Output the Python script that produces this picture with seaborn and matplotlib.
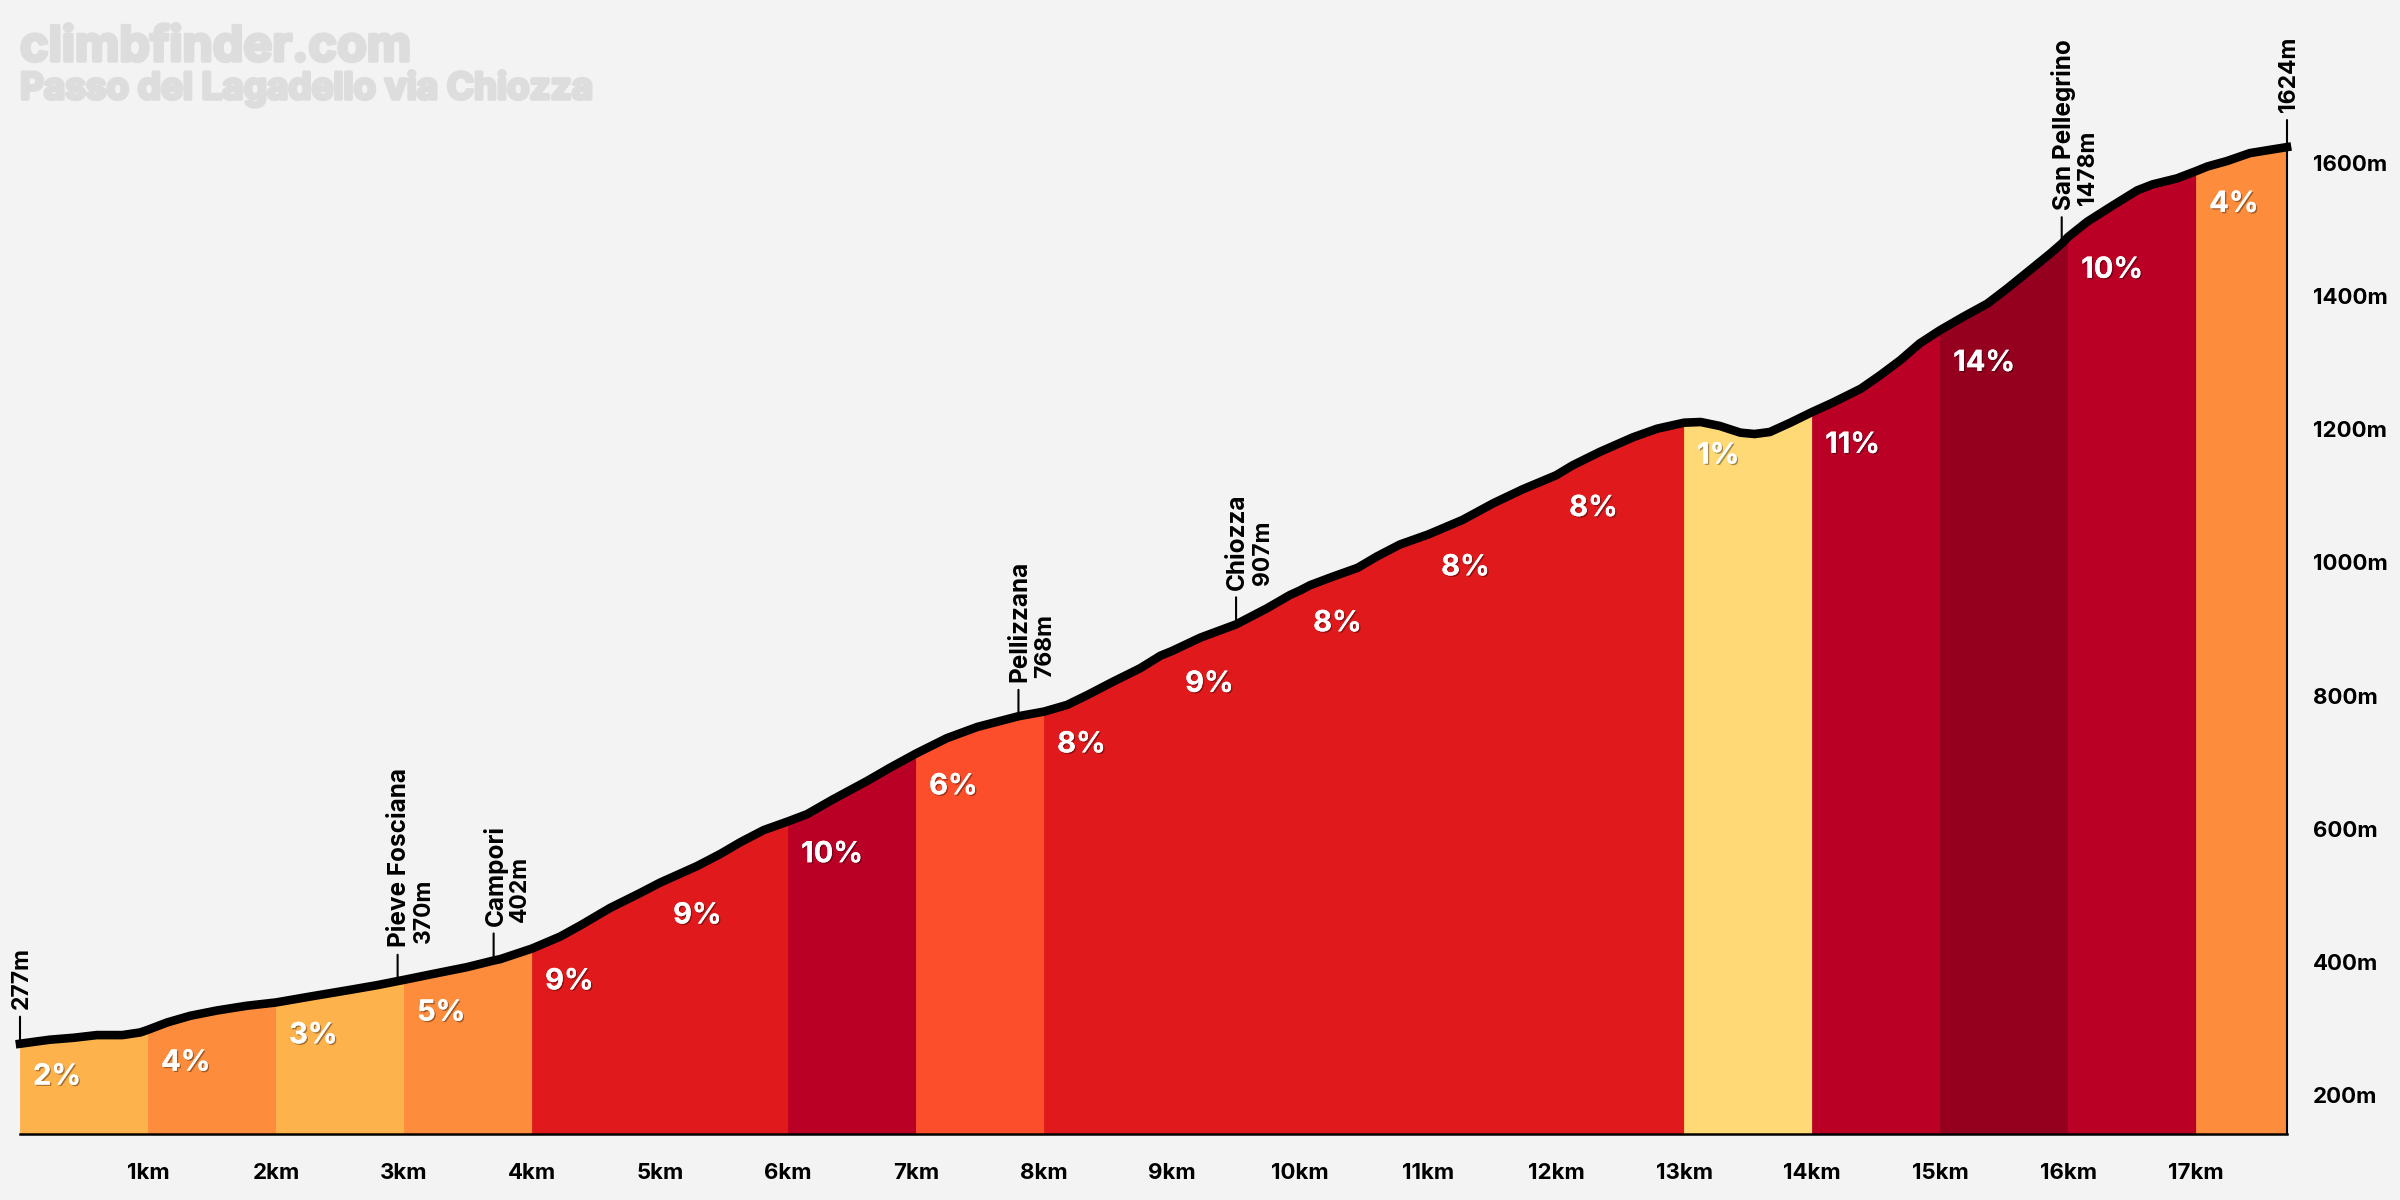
import numpy as np
import matplotlib
matplotlib.use("Agg")
import matplotlib.pyplot as plt
import matplotlib.patheffects as pe
import seaborn as sns

# profile (km, metres)
km_points = [0, 0.23, 0.42, 0.6, 0.8, 0.94, 1, 1.15, 1.33, 1.54, 1.77, 2, 2.27, 2.58, 2.79, 3, 3.23, 3.49, 3.7, 3.75,
             4, 4.22, 4.38, 4.61, 4.84, 5, 5.29, 5.47, 5.63, 5.81, 6, 6.15, 6.35, 6.62, 6.8, 7, 7.24, 7.48, 7.66, 7.8,
             8, 8.18, 8.34, 8.54, 8.75, 8.91, 9, 9.22, 9.5, 9.74, 9.92, 10, 10.08, 10.26, 10.45, 10.6, 10.78, 11,
             11.27, 11.51, 11.74, 12, 12.13, 12.34, 12.6, 12.79, 13, 13.13, 13.28, 13.44, 13.55, 13.67, 13.83, 14,
             14.16, 14.38, 14.53, 14.69, 14.84, 15, 15.18, 15.37, 15.52, 15.7, 15.86, 15.95, 16, 16.15, 16.33, 16.54,
             16.66, 16.85, 17, 17.09, 17.24, 17.42, 17.58, 17.71]
elev_points = [277, 283, 286, 290, 290, 294, 298, 309, 319, 327, 334, 339, 348, 358, 365, 373, 382, 392, 402, 404,
               420, 438, 455, 481, 503, 519, 544, 562, 580, 598, 611, 622, 644, 672, 692, 713, 736, 753, 762, 769,
               776, 786, 801, 821, 841, 860, 867, 887, 907, 931, 951, 958, 966, 979, 992, 1009, 1027, 1042,
               1064, 1089, 1110, 1131, 1146, 1166, 1188, 1201, 1210, 1211, 1205, 1195, 1193, 1196, 1210, 1226,
               1240, 1261, 1281, 1304, 1329, 1349, 1369, 1389, 1411, 1439, 1464, 1479, 1489, 1512, 1534, 1559,
               1568, 1577, 1588, 1595, 1603, 1615, 1620, 1624]

segment_edges = [0, 1, 2, 3, 4, 5, 6, 7, 8, 9, 10, 11, 12, 13, 14, 15, 16, 17, 17.71]
grades = [2, 4, 3, 5, 9, 9, 10, 6, 8, 9, 8, 8, 8, 1, 11, 14, 10, 4]
grade_colors = {1: "#fed976", 2: "#feb24c", 3: "#feb24c", 4: "#fd8d3c", 5: "#fd8d3c", 6: "#fc4e2a",
                8: "#e01a1c", 9: "#e01a1c", 10: "#bb0026", 11: "#bb0026", 14: "#95001e"}

x_ticks = [1, 2, 3, 4, 5, 6, 7, 8, 9, 10, 11, 12, 13, 14, 15, 16, 17, 17.71]
x_labels = ["1km", "2km", "3km", "4km", "5km", "6km", "7km", "8km", "9km", "10km", "11km", "12km", "13km",
            "14km", "15km", "16km", "17km", ""]
y_ticks = [200, 400, 600, 800, 1000, 1200, 1400, 1600]

place_names = ["Pieve Fosciana", "Campori", "Pellizzana", "Chiozza", "San Pellegrino"]
place_km = [2.95, 3.7, 7.8, 9.5, 15.95]
place_elev = [370, 402, 768, 907, 1478]
start_km, start_elev = 0, 277
end_km, end_elev = 17.71, 1624

sns.set_theme(style="white", rc={"axes.facecolor": "#f3f3f3", "figure.facecolor": "#f3f3f3"})
plt.rcParams["font.family"] = ["Inter", "DejaVu Sans"]

fig = plt.figure(figsize=(24, 12), dpi=100)
ax = fig.add_axes([20 / 2400, 66 / 1200, 2267 / 2400, 1134 / 1200])

km = np.array(km_points)
elev = np.array(elev_points)
floor = 141.4

# coloured blocks per km, thin same colour edge closes the seams
for i, grade in enumerate(grades):
    mask = (km >= segment_edges[i]) & (km <= segment_edges[i + 1])
    ax.fill_between(km[mask], floor, elev[mask], facecolor=grade_colors[grade], edgecolor=grade_colors[grade],
                    linewidth=0.6, zorder=1)

sns.lineplot(x=km, y=elev, color="black", linewidth=6.2, estimator=None, sort=False, ax=ax, zorder=4,
             solid_capstyle="projecting", solid_joinstyle="round", clip_on=False)

# percent labels hang below the start of each block
shadow = [pe.withSimplePatchShadow(offset=(1, -1), shadow_rgbFace="black", alpha=0.35), pe.Normal()]
for i, grade in enumerate(grades):
    start = segment_edges[i]
    ax.annotate(f"{grade}%", xy=(start, np.interp(start, km, elev)), xytext=(9.4, -24), textcoords="offset points",
                color="white", fontsize=21, fontweight="bold", ha="left", va="center", zorder=5,
                path_effects=shadow)


def stem_label(x, y, lines, sizes):
    ax.annotate("", xy=(x, y), xytext=(0, 19.5), textcoords="offset points", zorder=3, annotation_clip=False,
                arrowprops=dict(arrowstyle="-", color="black", lw=1.5, shrinkA=0, shrinkB=0))
    for j, line in enumerate(lines):
        # second line sits to the right and starts a little higher
        ax.annotate(line, xy=(x, y), xytext=(1.2 + j * 18, 25 + j * 3), textcoords="offset points", rotation=90,
                    ha="center", va="bottom", fontsize=sizes[j], fontweight="bold", color="black",
                    annotation_clip=False)


for name, x, y in zip(place_names, place_km, place_elev):
    stem_label(x, y, [name, f"{y}m"], [17.5, 16.5])
stem_label(start_km, start_elev, [f"{start_elev}m"], [16.5])
stem_label(end_km, end_elev, [f"{end_elev}m"], [16.5])

ax.set_xlim(0, 17.71)
ax.set_ylim(floor, 1845)
ax.set_xticks(x_ticks)
ax.set_xticklabels(x_labels)
ax.set_yticks(y_ticks)
ax.set_yticklabels([f"{v}m" for v in y_ticks])
ax.yaxis.tick_right()
ax.tick_params(axis="x", length=13.7, width=2.9, color="black", labelsize=16, pad=7, labelcolor="black")
ax.tick_params(axis="y", length=13.7, width=2.9, color="black", labelsize=16, pad=5, labelcolor="black")
for lab in ax.get_xticklabels() + ax.get_yticklabels():
    lab.set_fontweight("bold")

sns.despine(ax=ax, left=True, top=True, right=False, bottom=False)
ax.spines["right"].set_bounds(floor, end_elev)
ax.spines["right"].set_linewidth(1.5)
ax.spines["bottom"].set_linewidth(1.8)
ax.spines["right"].set_color("black")
ax.spines["bottom"].set_color("black")
ax.grid(False)

# watermark and climb name
heavy = [pe.withStroke(linewidth=2.5, foreground="#dddddd")]
fig.text(20 / 2400, 1 - 61 / 1200, "climbfinder.com", color="#dddddd", fontsize=35, fontweight="bold",
         ha="left", va="baseline", path_effects=heavy)
fig.text(20 / 2400, 1 - 99 / 1200, "Passo del Lagadello via Chiozza", color="#dddddd", fontsize=26.5, fontweight="bold",
         ha="left", va="baseline", path_effects=heavy)

fig.savefig("out.png", dpi=100)
